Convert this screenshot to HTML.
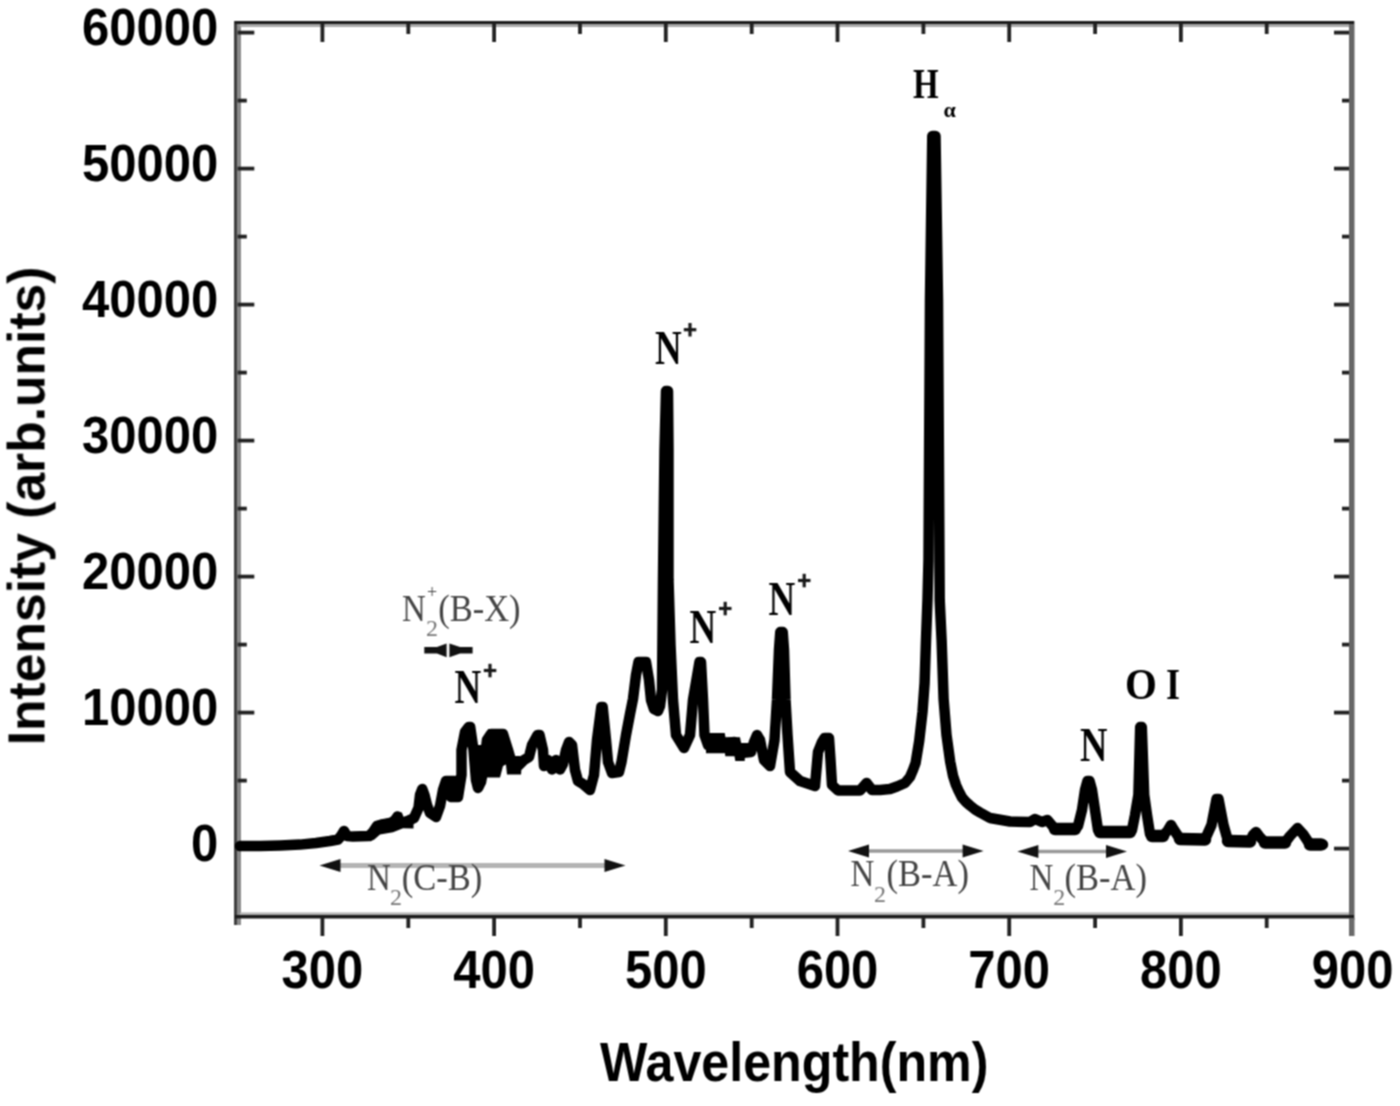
<!DOCTYPE html>
<html><head><meta charset="utf-8"><style>
html,body{margin:0;padding:0;background:#fff;width:1400px;height:1106px;overflow:hidden}
svg{display:block}
.tk{font-family:"Liberation Sans",sans-serif;font-weight:bold;font-size:49px;fill:#000}
.ax{font-family:"Liberation Sans",sans-serif;font-weight:bold;fill:#000}
.bs{font-family:"Liberation Serif",serif;font-weight:bold;fill:#000}
.rs{font-family:"Liberation Serif",serif;font-weight:normal;fill:#444}
</style></head><body>
<svg width="1400" height="1106" viewBox="0 0 1400 1106">
<defs><filter id="soft" x="0" y="0" width="1" height="1" color-interpolation-filters="sRGB"><feConvolveMatrix order="3" kernelMatrix="1 2 1 2 4 2 1 2 1" edgeMode="duplicate"/></filter></defs>
<g filter="url(#soft)">
<rect x="0" y="0" width="1400" height="1106" fill="#fff"/>
<rect x="234" y="21" width="3.6" height="904" fill="#404040"/>
<rect x="237.6" y="21" width="3.4" height="904" fill="#8a8a8a"/>
<rect x="1349" y="21" width="5.5" height="899" fill="#666"/>
<rect x="235" y="21" width="1119" height="3" fill="#1c1c1c"/>
<rect x="240" y="24" width="1109" height="3" fill="#a8a8a8"/>
<rect x="240" y="912.5" width="1109" height="2.5" fill="#b0b0b0"/>
<rect x="235" y="915" width="1119" height="3.5" fill="#1c1c1c"/>
<rect x="237.6" y="846.7" width="16.7" height="3.8" fill="#222"/>
<rect x="1334" y="846.7" width="15" height="3.8" fill="#222"/>
<rect x="237.6" y="778.7" width="9.2" height="3.8" fill="#222"/>
<rect x="1342" y="778.7" width="7" height="3.8" fill="#222"/>
<rect x="237.6" y="710.7" width="16.7" height="3.8" fill="#222"/>
<rect x="1334" y="710.7" width="15" height="3.8" fill="#222"/>
<rect x="237.6" y="642.7" width="9.2" height="3.8" fill="#222"/>
<rect x="1342" y="642.7" width="7" height="3.8" fill="#222"/>
<rect x="237.6" y="574.7" width="16.7" height="3.8" fill="#222"/>
<rect x="1334" y="574.7" width="15" height="3.8" fill="#222"/>
<rect x="237.6" y="506.7" width="9.2" height="3.8" fill="#222"/>
<rect x="1342" y="506.7" width="7" height="3.8" fill="#222"/>
<rect x="237.6" y="438.7" width="16.7" height="3.8" fill="#222"/>
<rect x="1334" y="438.7" width="15" height="3.8" fill="#222"/>
<rect x="237.6" y="370.7" width="9.2" height="3.8" fill="#222"/>
<rect x="1342" y="370.7" width="7" height="3.8" fill="#222"/>
<rect x="237.6" y="302.7" width="16.7" height="3.8" fill="#222"/>
<rect x="1334" y="302.7" width="15" height="3.8" fill="#222"/>
<rect x="237.6" y="234.7" width="9.2" height="3.8" fill="#222"/>
<rect x="1342" y="234.7" width="7" height="3.8" fill="#222"/>
<rect x="237.6" y="166.7" width="16.7" height="3.8" fill="#222"/>
<rect x="1334" y="166.7" width="15" height="3.8" fill="#222"/>
<rect x="237.6" y="98.7" width="9.2" height="3.8" fill="#222"/>
<rect x="1342" y="98.7" width="7" height="3.8" fill="#222"/>
<rect x="237.6" y="30.7" width="16.7" height="3.8" fill="#222"/>
<rect x="1334" y="30.7" width="15" height="3.8" fill="#222"/>
<rect x="320.5" y="918" width="3.8" height="18" fill="#222"/>
<rect x="320.5" y="24" width="3.8" height="18" fill="#222"/>
<rect x="406.4" y="918" width="3.8" height="10" fill="#222"/>
<rect x="406.4" y="24" width="3.8" height="10" fill="#222"/>
<rect x="492.2" y="918" width="3.8" height="18" fill="#222"/>
<rect x="492.2" y="24" width="3.8" height="18" fill="#222"/>
<rect x="578.1" y="918" width="3.8" height="10" fill="#222"/>
<rect x="578.1" y="24" width="3.8" height="10" fill="#222"/>
<rect x="663.9" y="918" width="3.8" height="18" fill="#222"/>
<rect x="663.9" y="24" width="3.8" height="18" fill="#222"/>
<rect x="749.8" y="918" width="3.8" height="10" fill="#222"/>
<rect x="749.8" y="24" width="3.8" height="10" fill="#222"/>
<rect x="835.6" y="918" width="3.8" height="18" fill="#222"/>
<rect x="835.6" y="24" width="3.8" height="18" fill="#222"/>
<rect x="921.5" y="918" width="3.8" height="10" fill="#222"/>
<rect x="921.5" y="24" width="3.8" height="10" fill="#222"/>
<rect x="1007.3" y="918" width="3.8" height="18" fill="#222"/>
<rect x="1007.3" y="24" width="3.8" height="18" fill="#222"/>
<rect x="1093.2" y="918" width="3.8" height="10" fill="#222"/>
<rect x="1093.2" y="24" width="3.8" height="10" fill="#222"/>
<rect x="1179.0" y="918" width="3.8" height="18" fill="#222"/>
<rect x="1179.0" y="24" width="3.8" height="18" fill="#222"/>
<rect x="1264.8" y="918" width="3.8" height="10" fill="#222"/>
<rect x="1264.8" y="24" width="3.8" height="10" fill="#222"/>
<rect x="1349" y="918" width="5.5" height="18" fill="#6a6a6a"/>
<text transform="translate(218.2,861.4) scale(1,1.07)" text-anchor="end" class="tk">0</text>
<text transform="translate(218.2,725.4) scale(1,1.07)" text-anchor="end" class="tk">10000</text>
<text transform="translate(218.2,589.4) scale(1,1.07)" text-anchor="end" class="tk">20000</text>
<text transform="translate(218.2,453.4) scale(1,1.07)" text-anchor="end" class="tk">30000</text>
<text transform="translate(218.2,317.4) scale(1,1.07)" text-anchor="end" class="tk">40000</text>
<text transform="translate(218.2,181.4) scale(1,1.07)" text-anchor="end" class="tk">50000</text>
<text transform="translate(218.2,45.4) scale(1,1.07)" text-anchor="end" class="tk">60000</text>
<text transform="translate(322.4,987.8) scale(1,1.11)" text-anchor="middle" class="tk">300</text>
<text transform="translate(494.1,987.8) scale(1,1.11)" text-anchor="middle" class="tk">400</text>
<text transform="translate(665.8,987.8) scale(1,1.11)" text-anchor="middle" class="tk">500</text>
<text transform="translate(837.5,987.8) scale(1,1.11)" text-anchor="middle" class="tk">600</text>
<text transform="translate(1009.2,987.8) scale(1,1.11)" text-anchor="middle" class="tk">700</text>
<text transform="translate(1180.9,987.8) scale(1,1.11)" text-anchor="middle" class="tk">800</text>
<text transform="translate(1352.6,987.8) scale(1,1.11)" text-anchor="middle" class="tk">900</text>
<text transform="translate(600,1081) scale(1,1.11)" class="ax" font-size="50.2">Wavelength(nm)</text>
<text transform="translate(44.5,745.3) rotate(-90)" class="ax" font-size="51.6">Intensity (arb.units)</text>
<polygon points="475,745 486.5,745 488,729 505,729 511,750 511,771 507,764 503,766 500,777.5 484,777.5 483,790 476,790" fill="#000"/>
<polygon points="374,822 380,819.5 393,817 394,812.5 402,812.5 403,817 411,814.8 413.5,812 413.5,828.5 403,828.3 393,832.3 380,834.6 374.3,839.5 370,841.5 370,836" fill="#000"/>
<polygon points="508,756 520,756 522,760 521,774.5 507,774.5 506,765" fill="#000"/>
<polygon points="706,733 724.7,733 725.5,737.3 740,737.3 741,743 752,743 752,756 745,756 744.7,761 735.3,761 734.5,756.2 725.3,756.2 725,753.2 706,753.2" fill="#000"/>
<polyline points="1100,832 1130,832" fill="none" stroke="#000" stroke-width="12.5" stroke-linecap="round"/>
<polyline points="1152,836 1163,836" fill="none" stroke="#000" stroke-width="12.5" stroke-linecap="round"/>
<polyline points="1180,839 1205,839.5" fill="none" stroke="#000" stroke-width="12.5" stroke-linecap="round"/>
<polyline points="1228,841 1250,841.5" fill="none" stroke="#000" stroke-width="12.5" stroke-linecap="round"/>
<polyline points="1265,842.5 1285,842.5" fill="none" stroke="#000" stroke-width="12.5" stroke-linecap="round"/>
<polyline points="1310,844.5 1321,844.5" fill="none" stroke="#000" stroke-width="12.5" stroke-linecap="round"/>
<polyline points="1055,829 1075,829" fill="none" stroke="#000" stroke-width="12.5" stroke-linecap="round"/>
<polyline points="240,846 260,846 280,845.5 300,844.6 316,843 330,841 338,839.5 341,836 344,831 347,836 353,836.6 369,836 373,832 377,826 382,825 391,823.5 395,820 397.5,816.5 400,821 405,822.5 410,820 414,818 418.5,808 420,795 422.3,789 424.5,795 427,805 430,813 436,817 440,806 443,790 446,781 456,781 451,797 458,797 461.5,775 461.5,750 465,732 468.8,727 470.2,727 473.5,750 476,780 478,788 481,782 484,765 487,740 491,734 503,734 508,750 512,764 515,768 519,765 524,760 529,757 532,745 537.5,735 539.5,735 543,750 544,766 548,760 552,769.5 556,760 560,769.5 563,764 566,750 569,742 572,745 575,770 578,781 583,784 590,790 594,775 597,740 601.3,707 602.7,707 606,740 608,762 612,773 619,772 621.5,762 626,735 630,714 633,699 636,675 638.5,662 646,662 649,680 651,700 654,709 658,711 660,706 662,690 663,580 664.5,450 666,391 668,391 668.5,450 668.5,580 670.5,645 673,700 676,735 684,748 690,735 693,700 699.5,662 701,662 703,700 704.5,735 708,745 727,743 734.6,742 741,753 751,752 754,742 757,735 760,740 764,760 770,766 774.5,740 777,700 779,650 780.3,632 782.7,632 784,650 785.5,700 787.5,735 790,772 800,781 815,786 818,752 822,742 824.5,738 829,738 830.5,760 832,785 838,790.5 860,790.5 866.6,783 872,790 880,790 890,789 897,786.5 905,783 910,777 913,770 915.6,763 919.2,741 922.5,712 924.6,683 926,640 927.5,600 928.5,560 930,300 932.3,136 935.5,136 938,300 939.7,600 941.6,640 943.6,699 946.5,735 950.2,761.7 953.1,776.2 956,785 958.5,790.7 962,797.5 966,802 970,805.5 975,809.5 980,812.5 990,818 1010,821.5 1030,822 1035,819 1042,822 1047.5,820 1055,829 1075,829 1078,826 1082,810 1085,790 1087.5,781 1089.5,781 1092,790 1095,810 1098,830 1100,832 1130,832 1132,830 1135,815 1138.4,795 1140.2,727 1141.8,727 1144.2,795 1147,815 1150,834 1152,836 1163,836 1168,830 1171,825 1174,830 1180,839 1205,839.5 1211.5,825 1216.5,799 1218.5,799 1223.5,825 1228,841 1250,841.5 1253,835 1256,832 1259,836 1265,842.5 1285,842.5 1290,836 1297.5,828 1303,834 1310,844.5 1323,844.5" fill="none" stroke="#000" stroke-width="10.5" stroke-linejoin="round" stroke-linecap="round"/>
<text transform="translate(913,98) scale(1,1.3)" class="bs" font-size="33">H</text>
<text transform="translate(943.5,116.8) scale(1,1.0)" class="bs" font-size="22">&#945;</text>
<text transform="translate(655,364) scale(1,1.29)" class="bs" font-size="37">N</text>
<rect x="683.8" y="328.1" width="12.5" height="3.2" fill="#1a1a1a"/>
<rect x="688.4" y="323.0" width="3.2" height="13.5" fill="#1a1a1a"/>
<text transform="translate(454.5,703.4) scale(1,1.29)" class="bs" font-size="37">N</text>
<rect x="483.8" y="668.9" width="12.5" height="3.2" fill="#1a1a1a"/>
<rect x="488.4" y="663.8" width="3.2" height="13.5" fill="#1a1a1a"/>
<text transform="translate(689.5,643) scale(1,1.29)" class="bs" font-size="37">N</text>
<rect x="719.0" y="606.9" width="12.5" height="3.2" fill="#1a1a1a"/>
<rect x="723.6" y="601.8" width="3.2" height="13.5" fill="#1a1a1a"/>
<text transform="translate(768.5,615) scale(1,1.29)" class="bs" font-size="37">N</text>
<rect x="798.0" y="578.9" width="12.5" height="3.2" fill="#1a1a1a"/>
<rect x="802.6" y="573.8" width="3.2" height="13.5" fill="#1a1a1a"/>
<text transform="translate(1080,761) scale(1,1.26)" class="bs" font-size="38">N</text>
<text transform="translate(1125,698.8) scale(1,1.1)" class="bs" font-size="41">O</text>
<text transform="translate(1166,698.8) scale(1,1.26)" class="bs" font-size="36">I</text>
<text transform="translate(401.9,620.5) scale(1,1.12)" class="rs" font-size="33">N</text>
<text x="426" y="635.5" class="rs" font-size="24" style="fill:#777">2</text>
<text transform="translate(438.2,620.5) scale(1,1.09)" class="rs" font-size="34.5">(B-X)</text>
<text x="426.9" y="597.6" class="rs" font-size="18">+</text>
<polygon points="424.3,647 437,647 446.6,643.4 446.6,657.3 437,653.6 424.3,653.6" fill="#111"/>
<polygon points="472.6,647 460,647 449.4,643.4 449.4,657.3 460,653.6 472.6,653.6" fill="#111"/>
<rect x="337.5" y="863.0" width="270.0" height="5" fill="#b4b4b4"/>
<polygon points="319.5,865.5 340.5,859.0 340.5,872.0" fill="#111"/>
<polygon points="625.5,865.5 604.5,859.0 604.5,872.0" fill="#111"/>
<rect x="866" y="849.25" width="99.60000000000002" height="3.5" fill="#999"/>
<polygon points="848,851 869,844.5 869,857.5" fill="#111"/>
<polygon points="983.6,851 962.6,844.5 962.6,857.5" fill="#111"/>
<rect x="1035.4" y="849.75" width="73.60000000000002" height="3.5" fill="#999"/>
<polygon points="1017.4,851.5 1038.4,845.0 1038.4,858.0" fill="#111"/>
<polygon points="1127,851.5 1106,845.0 1106,858.0" fill="#111"/>
<text transform="translate(367,889.5) scale(1,1.12)" class="rs" font-size="33">N</text>
<text x="390" y="905.3" class="rs" font-size="24" style="fill:#777">2</text>
<text transform="translate(401.8,889.5) scale(1,1.09)" class="rs" font-size="34.5">(C-B)</text>
<text transform="translate(850.5,886.3) scale(1,1.12)" class="rs" font-size="33">N</text>
<text x="874" y="901.8" class="rs" font-size="24" style="fill:#777">2</text>
<text transform="translate(886.5,886.3) scale(1,1.09)" class="rs" font-size="34.5">(B-A)</text>
<text transform="translate(1029.5,889.5) scale(1,1.12)" class="rs" font-size="33">N</text>
<text x="1053.3" y="905" class="rs" font-size="24" style="fill:#777">2</text>
<text transform="translate(1064.6,889.5) scale(1,1.09)" class="rs" font-size="34.5">(B-A)</text>
</g>
</svg>
</body></html>
